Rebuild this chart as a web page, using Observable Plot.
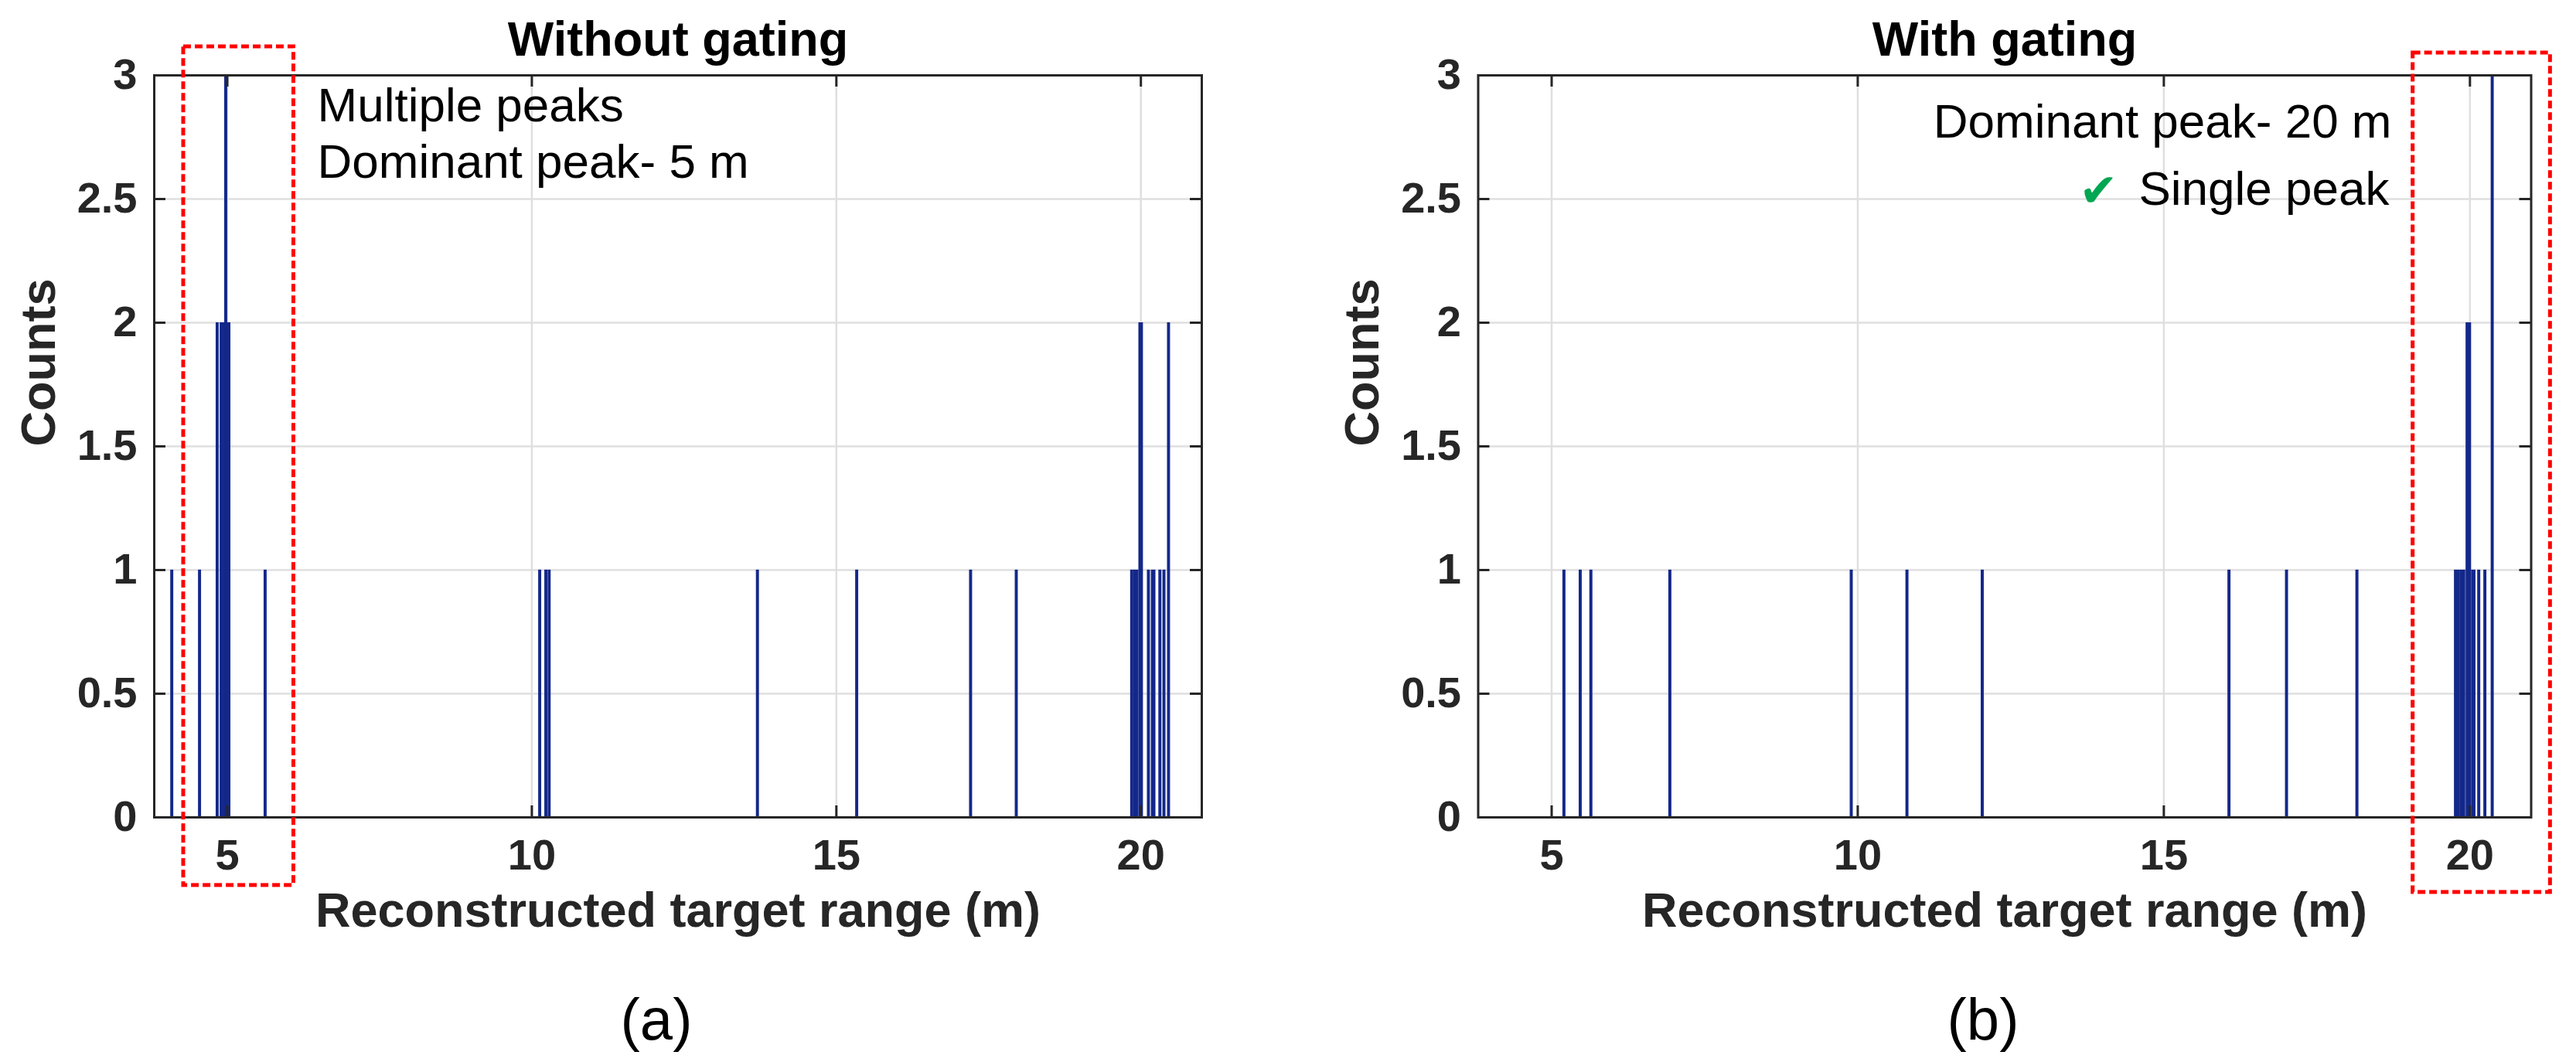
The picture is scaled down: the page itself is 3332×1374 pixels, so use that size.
<!DOCTYPE html>
<html>
<head>
<meta charset="utf-8">
<script src="https://cdn.jsdelivr.net/npm/d3@7"></script>
<script src="https://cdn.jsdelivr.net/npm/@observablehq/plot@0.6"></script>
<style>
  html, body { margin: 0; padding: 0; background: #ffffff; }
  #wrap { display: flex; width: 3332px; height: 1374px; background: #ffffff; }
  #wrap svg { display: block; }
</style>
</head>
<body>
<div id="wrap"></div>
<script>
// ---- data ----
const xTicks = [5, 10, 15, 20];
const yTicks = [0, 0.5, 1, 1.5, 2, 2.5, 3];
const xDomain = [3.8, 21];
const yDomain = [0, 3];
const binWidth = 0.05;

// Panel (a): without gating — bin centres (m) and counts
const leftCenters = [4.094, 4.55, 4.84, 4.905, 4.955, 4.98, 5.005, 5.032, 5.627,
  10.135, 10.236, 10.29, 13.71, 15.34, 17.21, 17.96,
  19.855, 19.90, 19.94, 19.99, 20.015, 20.13, 20.195, 20.22, 20.318, 20.385, 20.46];
const leftCounts = [1, 1, 2, 2, 2, 3, 2, 2, 1,
  1, 1, 1, 1, 1, 1, 1,
  1, 1, 1, 2, 2, 1, 1, 1, 1, 1, 2];

// Panel (b): with gating
const rightCenters = [5.207, 5.473, 5.647, 6.937, 9.90, 10.81, 12.04, 16.07, 17.01, 18.16,
  19.77, 19.815, 19.86, 19.905, 19.96, 20.0, 20.05, 20.072, 20.15, 20.25, 20.37];
const rightCounts = [1, 1, 1, 1, 1, 1, 1, 1, 1, 1,
  1, 1, 1, 1, 2, 2, 1, 1, 1, 1, 3];

const titles = ["Without gating", "With gating"];
const panelLabels = ["(a)", "(b)"];
const xLabel = "Reconstructed target range (m)";
const yLabel = "Counts";
const leftNotes = ["Multiple peaks", "Dominant peak- 5 m"];
const rightNotes = ["Dominant peak- 20 m", "Single peak"];
const checkMark = "\u2714";

// highlight boxes (data units, extend beyond the axes)
const leftBox = {x1: 4.282, x2: 6.091, y1: -0.275, y2: 3.116};
const rightBox = {x1: 19.07, x2: 21.314, y1: -0.303, y2: 3.091};

// ---- style ----
const barColor = "#14288A";
const axisColor = "#262626";
const gridColor = "#dfdfdf";
const font = "'Liberation Sans', Arial, Helvetica, sans-serif";

function panel({centers, counts, title, plabel, marginLeft, marginRight, notes, box, right}) {
  const W = 1666, H = 1374, mt = 97, mb = 317;
  const plotW = W - marginLeft - marginRight, plotH = H - mt - mb;
  const tl = 15;
  const dyT = tl / plotH * (yDomain[1] - yDomain[0]);
  const dxT = tl / plotW * (xDomain[1] - xDomain[0]);
  const rows = centers.map((c, i) => ({x1: c - binWidth / 2, x2: c + binWidth / 2, count: counts[i]}));

  const noteMarks = right
    ? [
        Plot.text([notes[0]], {frameAnchor: "top-right", dx: -180.5, dy: 60.5, textAnchor: "end", lineAnchor: "middle", fontSize: 62, fill: "#000"}),
        Plot.text([notes[1]], {frameAnchor: "top-right", dx: -183.5, dy: 148, textAnchor: "end", lineAnchor: "middle", fontSize: 62, fill: "#000"}),
        Plot.text([checkMark], {frameAnchor: "top-right", dx: -559.5, dy: 150, textAnchor: "middle", lineAnchor: "middle", fontSize: 60, fill: "#00A651", fontFamily: "'DejaVu Sans', sans-serif"})
      ]
    : [
        Plot.text([notes[0]], {frameAnchor: "top-left", dx: 211, dy: 39.5, textAnchor: "start", lineAnchor: "middle", fontSize: 62, fill: "#000"}),
        Plot.text([notes[1]], {frameAnchor: "top-left", dx: 211, dy: 112.5, textAnchor: "start", lineAnchor: "middle", fontSize: 62, fill: "#000"})
      ];

  return Plot.plot({
    width: W,
    height: H,
    marginLeft, marginRight, marginTop: mt, marginBottom: mb,
    style: {background: "#ffffff", fontFamily: font, overflow: "visible"},
    x: {domain: xDomain},
    y: {domain: yDomain},
    marks: [
      Plot.gridX(xTicks, {stroke: gridColor, strokeOpacity: 1, strokeWidth: 2.5}),
      Plot.gridY(yTicks, {stroke: gridColor, strokeOpacity: 1, strokeWidth: 2.5}),
      Plot.rect(rows, {x1: "x1", x2: "x2", y1: 0, y2: "count", fill: barColor, inset: 0}),
      Plot.ruleX(xTicks, {x: d => d, y1: yDomain[0], y2: yDomain[0] + dyT, stroke: axisColor, strokeWidth: 3}),
      Plot.ruleX(xTicks, {x: d => d, y1: yDomain[1] - dyT, y2: yDomain[1], stroke: axisColor, strokeWidth: 3}),
      Plot.ruleY(yTicks, {y: d => d, x1: xDomain[0], x2: xDomain[0] + dxT, stroke: axisColor, strokeWidth: 3}),
      Plot.ruleY(yTicks, {y: d => d, x1: xDomain[1] - dxT, x2: xDomain[1], stroke: axisColor, strokeWidth: 3}),
      Plot.frame({stroke: axisColor, strokeWidth: 3}),
      Plot.axisX(xTicks, {anchor: "bottom", tickSize: 0, tickPadding: 28, fontSize: 56, fontWeight: "bold", fill: axisColor, tickFormat: d => String(d), label: null}),
      Plot.axisY(yTicks, {anchor: "left", tickSize: 0, tickPadding: 22, fontSize: 56, fontWeight: "bold", fill: axisColor, tickFormat: d => String(d), label: null}),
      Plot.text([title], {frameAnchor: "top", dy: -45.5, lineAnchor: "middle", fontSize: 63, fontWeight: "bold", fill: "#000"}),
      Plot.text([xLabel], {frameAnchor: "bottom", dy: 121, lineAnchor: "middle", fontSize: 63, fontWeight: "bold", fill: axisColor}),
      Plot.text([yLabel], {frameAnchor: "left", dx: -149, rotate: -90, lineAnchor: "middle", fontSize: 63, fontWeight: "bold", fill: axisColor}),
      Plot.text([plabel], {frameAnchor: "bottom", dx: -28, dy: 263, lineAnchor: "middle", fontSize: 76, fill: "#000"}),
      ...noteMarks,
      Plot.rect([box], {x1: "x1", x2: "x2", y1: "y1", y2: "y2", fill: "none", stroke: "#ff0000", strokeWidth: 5, strokeDasharray: "10,5", clip: false})
    ]
  });
}

const wrap = document.getElementById("wrap");
wrap.appendChild(panel({centers: leftCenters, counts: leftCounts, title: titles[0], plabel: panelLabels[0],
  marginLeft: 199, marginRight: 112, notes: leftNotes, box: leftBox, right: false}));
wrap.appendChild(panel({centers: rightCenters, counts: rightCounts, title: titles[1], plabel: panelLabels[1],
  marginLeft: 245.5, marginRight: 58.5, notes: rightNotes, box: rightBox, right: true}));
</script>
</body>
</html>
